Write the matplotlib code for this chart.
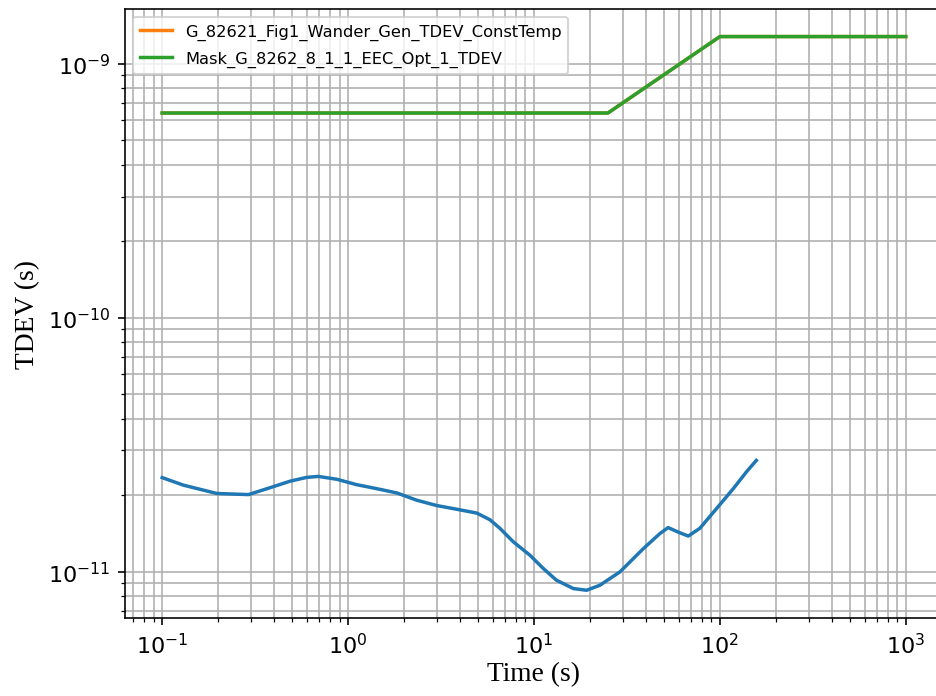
import matplotlib
matplotlib.use("Agg")
import matplotlib.pyplot as plt
import numpy as np

# TDEV medido (s) frente a tau (s)
tau_meas = [0.1, 0.13, 0.197, 0.291, 0.381, 0.488, 0.60, 0.692, 0.869, 1.11, 1.43,
            1.83, 2.34, 3.0, 4.0, 4.92, 5.8, 6.56, 7.74, 9.51, 11.2, 13.2, 16.3,
            19.2, 22.6, 29.0, 38.7, 47.5, 52.7, 59.7, 67.6, 78.0, 95.9, 118.0,
            139.0, 157.0]
tdev_meas = [2.345e-11, 2.19e-11, 2.03e-11, 2.01e-11, 2.14e-11, 2.27e-11, 2.35e-11,
             2.37e-11, 2.31e-11, 2.20e-11, 2.12e-11, 2.04e-11, 1.91e-11, 1.82e-11,
             1.75e-11, 1.70e-11, 1.60e-11, 1.48e-11, 1.31e-11, 1.16e-11, 1.03e-11,
             9.25e-12, 8.57e-12, 8.44e-12, 8.83e-12, 9.97e-12, 1.23e-11, 1.41e-11,
             1.49e-11, 1.43e-11, 1.38e-11, 1.48e-11, 1.77e-11, 2.12e-11, 2.47e-11,
             2.74e-11]

# Mascara G.8262 EEC opcion 1
tau_mask = [0.1, 25, 100, 1000]
tdev_mask = [0.64e-9, 0.64e-9, 1.28e-9, 1.28e-9]

label_data = "G_82621_Fig1_Wander_Gen_TDEV_ConstTemp"
label_mask = "Mask_G_8262_8_1_1_EEC_Opt_1_TDEV"

fig = plt.figure(figsize=(6.4, 4.76), dpi=146.4)
ax = fig.add_axes([0.1334, 0.112, 0.873, 0.874])

ax.loglog(tau_meas, tdev_meas, color="C0", lw=1.7)
ax.loglog(tau_mask, tdev_mask, color="C1", lw=1.7, label=label_data)
ax.loglog(tau_mask, tdev_mask, color="C2", lw=1.7, label=label_mask)

ax.grid(True, which="both")
ax.tick_params(labelsize=11)
ax.set_xlabel("Time (s)", family="Liberation Serif", fontsize=13.5, labelpad=2)
ax.set_ylabel("TDEV (s)", family="Liberation Serif", fontsize=13.5)
ax.legend(loc="upper left", fontsize=8, labelspacing=0.7)

fig.savefig("out.png", dpi=146.4)
